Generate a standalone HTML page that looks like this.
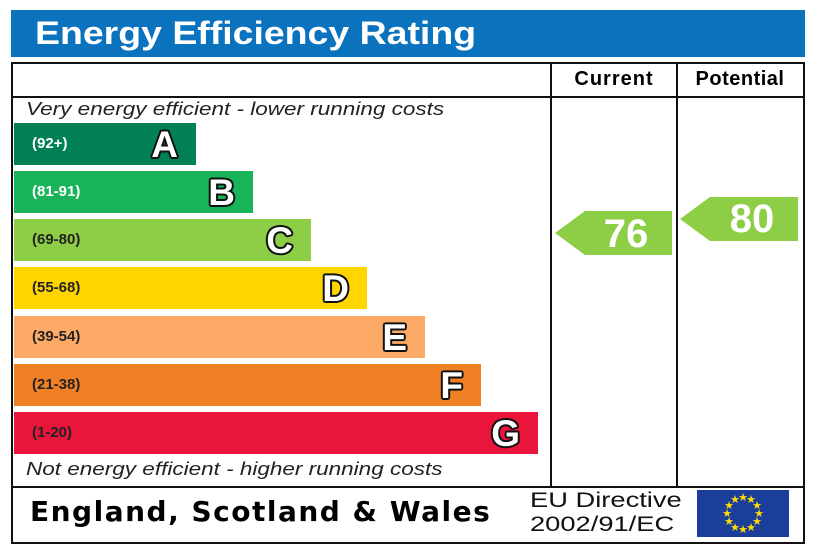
<!DOCTYPE html><html><head><style>
body{margin:0;width:820px;height:547px;background:#fff;position:relative;overflow:hidden;font-family:"Liberation Sans",sans-serif}
.a{position:absolute}
.bar{position:absolute;left:14px;height:42px}
.bar span{position:absolute;left:18px;top:12px;font-size:15px;font-weight:bold;color:#222}
.bar b{position:absolute;right:18px;top:1px;font-size:37px;font-weight:900;color:#fff;text-shadow:-2px 0 #111,2px 0 #111,0 -2px #111,0 2px #111,-1.5px -1.5px #111,1.5px 1.5px #111,-1.5px 1.5px #111,1.5px -1.5px #111}
.it{font-size:18px;font-style:italic;color:#222;transform:scaleX(1.25);transform-origin:0 0}
</style></head><body>
<div class="a" style="left:11px;top:10px;width:794px;height:47px;background:#0b72be"></div>
<div class="a" style="left:35px;top:15px;font-size:32px;font-weight:bold;color:#fff;transform:scaleX(1.17);transform-origin:0 0">Energy Efficiency Rating</div>
<div class="a" style="left:11px;top:62px;width:790px;height:478px;border:2px solid #111"></div>
<div class="a" style="left:13px;top:96px;width:790px;height:2px;background:#111"></div>
<div class="a" style="left:13px;top:486px;width:790px;height:2px;background:#111"></div>
<div class="a" style="left:550px;top:64px;width:2px;height:423px;background:#111"></div>
<div class="a" style="left:676px;top:64px;width:2px;height:423px;background:#111"></div>
<div class="a" style="left:552px;top:68px;width:124px;text-align:center;font-size:20px;font-weight:bold;letter-spacing:1px">Current</div>
<div class="a" style="left:678px;top:68px;width:124px;text-align:center;font-size:20px;font-weight:bold;letter-spacing:0.5px">Potential</div>
<div class="a it" style="left:26px;top:99px">Very energy efficient - lower running costs</div>
<div class="a it" style="left:26px;top:459px">Not energy efficient - higher running costs</div>
<div class="bar" style="top:123px;width:182px;background:#008054"><span style="color:#fff">(92+)</span><b>A</b></div>
<div class="bar" style="top:171px;width:239px;background:#19b459"><span style="color:#fff">(81-91)</span><b>B</b></div>
<div class="bar" style="top:219px;width:297px;background:#8dce46"><span>(69-80)</span><b>C</b></div>
<div class="bar" style="top:267px;width:353px;background:#ffd500"><span>(55-68)</span><b>D</b></div>
<div class="bar" style="top:316px;width:411px;background:#fcaa65"><span>(39-54)</span><b>E</b></div>
<div class="bar" style="top:364px;width:467px;background:#ef8023"><span>(21-38)</span><b>F</b></div>
<div class="bar" style="top:412px;width:524px;background:#e9153b"><span>(1-20)</span><b>G</b></div>
<svg class="a" style="left:0;top:0" width="820" height="547">
<polygon points="555,233 585,211 672,211 672,255 585,255" fill="#8dce46"/>
<polygon points="680,219 710,197 798,197 798,241 710,241" fill="#8dce46"/>
<text x="626" y="247" font-size="40" font-weight="bold" fill="#fff" text-anchor="middle" font-family="Liberation Sans">76</text>
<text x="752" y="232" font-size="40" font-weight="bold" fill="#fff" text-anchor="middle" font-family="Liberation Sans">80</text>
<rect x="697" y="490" width="92" height="47" fill="#1a3e9a"/>
<g fill="#ffdd00" font-size="11" text-anchor="middle" font-family="DejaVu Sans">
<text x="743" y="501">★</text><text x="751" y="503">★</text><text x="757" y="509">★</text><text x="759" y="517">★</text><text x="757" y="525">★</text><text x="751" y="531">★</text><text x="743" y="533">★</text><text x="735" y="531">★</text><text x="729" y="525">★</text><text x="727" y="517">★</text><text x="729" y="509">★</text><text x="735" y="503">★</text>
</g>
</svg>
<div class="a" style="left:30px;top:495px;font-size:28px;font-weight:bold;font-family:'DejaVu Sans',sans-serif;letter-spacing:1.5px">England, Scotland &amp; Wales</div>
<div class="a" style="left:530px;top:489px;font-size:21px;line-height:24px;color:#111;transform:scaleX(1.3);transform-origin:0 0">EU Directive<br>2002/91/EC</div>
</body></html>
